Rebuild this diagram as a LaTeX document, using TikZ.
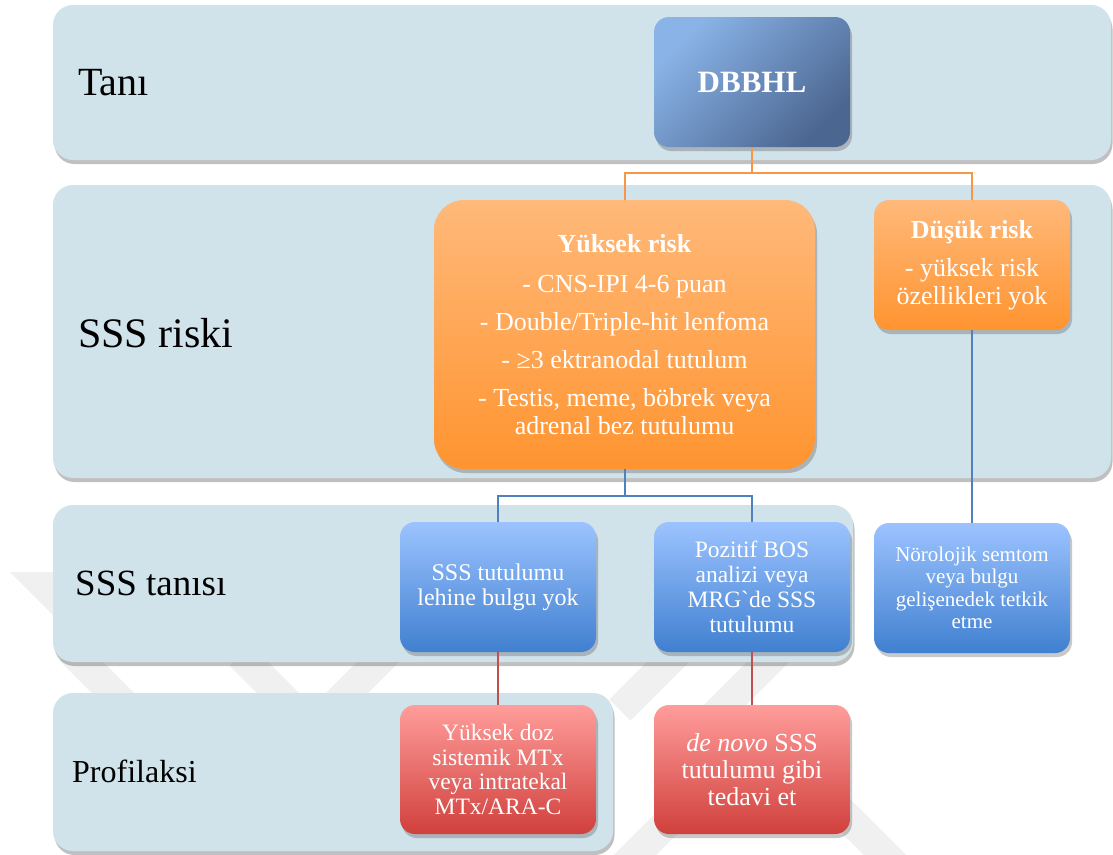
\documentclass[tikz,border=0pt]{standalone}
\usepackage{fontspec}
\setmainfont{Liberation Serif}
\usetikzlibrary{shadows}
\definecolor{bandfill}{HTML}{D0E2EA}
\definecolor{orTop}{HTML}{FFB97A}
\definecolor{orBot}{HTML}{FF9430}
\definecolor{blTop}{HTML}{9CC3FF}
\definecolor{blBot}{HTML}{4080D0}
\definecolor{rdTop}{HTML}{FF9D9B}
\definecolor{rdBot}{HTML}{D0403C}
\definecolor{dbTop}{HTML}{8AB4E8}
\definecolor{dbBot}{HTML}{4B6690}
\definecolor{orLine}{HTML}{F79646}
\definecolor{blLine}{HTML}{4F81BD}
\definecolor{rdLine}{HTML}{C0504D}
\definecolor{wmark}{HTML}{F0F0F0}
\tikzset{
  band/.style={fill=bandfill, rounded corners=20pt,
    drop shadow={shadow xshift=1.5pt, shadow yshift=-4pt, opacity=0.35, fill=black!70}},
  lbl/.style={anchor=base west, text=black, inner sep=0pt},
  boxbase/.style={rounded corners=15pt, text=white, align=center, inner sep=0pt,
    drop shadow={shadow xshift=2pt, shadow yshift=-4pt, opacity=0.3, fill=black!70}},
  obox/.style={boxbase, top color=orTop, bottom color=orBot},
  bbox/.style={boxbase, top color=blTop, bottom color=blBot},
  rbox/.style={boxbase, top color=rdTop, bottom color=rdBot},
  oline/.style={draw=orLine, line width=2pt},
  bline/.style={draw=blLine, line width=2pt},
  rline/.style={draw=rdLine, line width=2pt},
  wm/.style={draw=wmark, line width=30pt, line cap=butt},
}
\begin{document}
\begin{tikzpicture}[x=1pt,y=-1pt]
\useasboundingbox (0,0) rectangle (1113,854);
\fill[white] (0,0) rectangle (1113,854);
% faint watermark
\begin{scope}
\clip (0,0) rectangle (1113,854);
\fill[wmark] (10,572) -- (60,572) -- (60,622) -- cycle;
\draw[wm] (70,650) -- (125,705);
\draw[wm] (240,655) -- (300,715);
\draw[wm] (330,710) -- (400,640);
\draw[wm] (620,710) -- (700,630);
\draw[wm] (715,715) -- (800,630);
\draw[wm] (620,870) -- (680,810);
\draw[wm] (830,800) -- (900,870);
\end{scope}
% background bands
\path[band] (53,5) rectangle (1111,160);
\path[band] (53,185) rectangle (1111,478);
\path[band] (53,505) rectangle (853,662);
\path[band] (53,693) rectangle (613,851);
% band labels
\node[lbl, font=\fontsize{40}{44}\selectfont] (tani) at (78,95) {Tanı};
\node[lbl, font=\fontsize{42}{46}\selectfont] (riski) at (78,347) {SSS riski};
\node[lbl, font=\fontsize{37}{40}\selectfont] (tanisi) at (75,595) {SSS tanısı};
\node[lbl, font=\fontsize{32}{36}\selectfont] (profil) at (72,782) {Profilaksi};
% boxes
\node[boxbase, top color=dbTop, bottom color=dbBot, shading angle=45,
  minimum width=196pt, minimum height=130pt,
  font=\fontsize{31}{34}\selectfont\bfseries] (dbbhl) at (752,82) {DBBHL};
\node[obox, rounded corners=30pt, minimum width=381pt, minimum height=269pt,
  font=\fontsize{26}{28}\selectfont] (yuksek) at (624.5,334.5)
  {\textbf{Yüksek risk}\\[12pt]- CNS-IPI 4-6 puan\\[10pt]- Double/Triple-hit lenfoma\\[10pt]- ≥3 ektranodal tutulum\\[10pt]- Testis, meme, böbrek veya\\adrenal bez tutulumu};
\node[obox, minimum width=196pt, minimum height=130pt,
  font=\fontsize{26}{28}\selectfont] (dusuk) at (972,265)
  {\textbf{Düşük risk}\\[10pt]- yüksek risk\\özellikleri yok};
\node[bbox, minimum width=196pt, minimum height=130pt,
  font=\fontsize{24}{25}\selectfont] (sss1) at (498,587)
  {SSS tutulumu\\lehine bulgu yok};
\node[bbox, minimum width=196pt, minimum height=130pt,
  font=\fontsize{23.5}{25}\selectfont] (sss2) at (752,587)
  {Pozitif BOS\\analizi veya\\MRG\textasciigrave de SSS\\tutulumu};
\node[bbox, minimum width=196pt, minimum height=130pt,
  font=\fontsize{21}{22.5}\selectfont] (noro) at (972,588)
  {Nörolojik semtom\\veya bulgu\\gelişenedek tetkik\\etme};
\node[rbox, minimum width=196pt, minimum height=129pt,
  font=\fontsize{23.5}{24.5}\selectfont] (prof1) at (498,769.5)
  {Yüksek doz\\sistemik MTx\\veya intratekal\\MTx/ARA-C};
\node[rbox, minimum width=196pt, minimum height=129pt,
  font=\fontsize{26}{27}\selectfont] (prof2) at (752,769.5)
  {\textit{de novo} SSS\\tutulumu gibi\\tedavi et};
% connectors
\coordinate (j1) at (752,173);
\coordinate (j2) at (624.5,496);
\draw[oline] (dbbhl.south) -- (j1) -| (yuksek.north);
\draw[oline] (j1) -| (dusuk.north);
\draw[bline] (yuksek.south) -- (j2) -| (sss1.north);
\draw[bline] (j2) -| (sss2.north);
\draw[bline] (dusuk.south) -- (noro.north);
\draw[rline] (sss1.south) -- (prof1.north);
\draw[rline] (sss2.south) -- (prof2.north);
\end{tikzpicture}
\end{document}
